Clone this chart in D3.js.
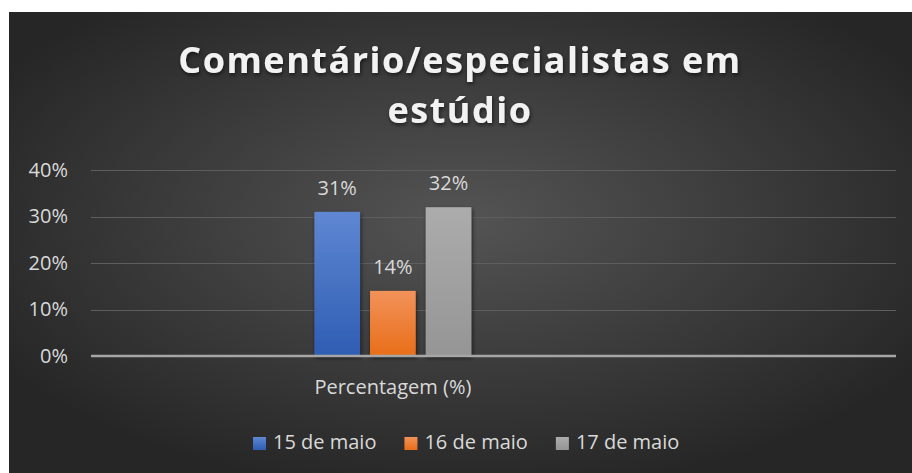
<!DOCTYPE html>
<html>
<head>
<meta charset="utf-8">
<script src="https://cdn.jsdelivr.net/npm/d3@7"></script>
<style>
  body { margin: 0; background: #fff; }
  svg { display: block; font-family: "Open Sans", sans-serif; }
</style>
</head>
<body>
<div class="canvas"></div>
<script>
// chart data
const categories = ["", "Percentagem (%)", "", ""];
const seriesNames = ["15 de maio", "16 de maio", "17 de maio"];
const seriesValues = [0.31, 0.14, 0.32];
const yTicks = [0, 0.1, 0.2, 0.3, 0.4];
const titleLines = ["Comentário/especialistas em", "estúdio"];

const dims = { width: 912, height: 473 };
const plot = { left: 91, right: 896, top: 170, bottom: 356 };

const svg = d3
  .select(".canvas")
  .append("svg")
  .attr("width", dims.width)
  .attr("height", dims.height);

const defs = svg.append("defs");

// background radial gradient
const bg = defs
  .append("radialGradient")
  .attr("id", "bg")
  .attr("cx", "50%")
  .attr("cy", "45%")
  .attr("r", "60%");
bg.append("stop").attr("offset", "0%").attr("stop-color", "#545454");
bg.append("stop").attr("offset", "100%").attr("stop-color", "#262626");

const barColors = [
  ["#5f87d2", "#2e5db3"],
  ["#f2925a", "#e86e18"],
  ["#acacac", "#959595"],
];
barColors.forEach((c, i) => {
  const g = defs
    .append("linearGradient")
    .attr("id", "bar" + i)
    .attr("x1", 0).attr("y1", 0).attr("x2", 0).attr("y2", 1);
  g.append("stop").attr("offset", "0%").attr("stop-color", c[0]);
  g.append("stop").attr("offset", "100%").attr("stop-color", c[1]);
});

const shadow = defs.append("filter").attr("id", "shadow")
  .attr("x", "-10%").attr("y", "-10%").attr("width", "130%").attr("height", "140%");
shadow.append("feDropShadow")
  .attr("dx", 1).attr("dy", 2).attr("stdDeviation", 2)
  .attr("flood-color", "#000").attr("flood-opacity", 0.6);

svg.append("rect")
  .attr("x", 9).attr("y", 12)
  .attr("width", dims.width - 9).attr("height", dims.height - 12)
  .attr("fill", "url(#bg)");

// title
svg.append("g")
  .selectAll("text")
  .data(titleLines)
  .enter()
  .append("text")
  .attr("x", 460)
  .attr("y", (d, i) => 73 + i * 50)
  .attr("text-anchor", "middle")
  .attr("fill", "#f2f2f2")
  .attr("font-size", 36)
  .attr("font-weight", "bold")
  .attr("letter-spacing", 1.5)
  .attr("filter", "url(#shadow)")
  .text((d) => d);

// scales
const x0 = d3.scaleBand().domain(d3.range(categories.length)).range([plot.left, plot.right]);
const x1 = d3
  .scaleBand()
  .domain(seriesNames)
  .range([x0.bandwidth() * 0.11, x0.bandwidth() * 0.89])
  .paddingInner(0.18);
const y = d3.scaleLinear().domain([0, 0.4]).range([plot.bottom, plot.top]);

// gridlines
svg.append("g")
  .selectAll("line")
  .data(yTicks.slice(1))
  .enter()
  .append("line")
  .attr("x1", plot.left).attr("x2", plot.right)
  .attr("y1", (d) => Math.round(y(d)) + 0.5)
  .attr("y2", (d) => Math.round(y(d)) + 0.5)
  .attr("stroke", "#5e5e5e")
  .attr("stroke-width", 1);

// y axis labels
const yAxis = d3.axisLeft(y).tickValues(yTicks).tickFormat(d3.format(".0%")).tickSize(0).tickPadding(23);
const yG = svg.append("g").attr("transform", `translate(${plot.left},0)`).call(yAxis);
yG.select(".domain").remove();
yG.selectAll("text")
  .attr("fill", "#d9d9d9")
  .attr("font-size", 20)
  .attr("font-family", "Open Sans");

// bars
const barG = svg.append("g").attr("transform", `translate(${x0(1)},0)`);
barG.selectAll("rect")
  .data(seriesValues)
  .enter()
  .append("rect")
  .attr("x", (d, i) => x1(seriesNames[i]))
  .attr("y", (d) => y(d))
  .attr("width", x1.bandwidth())
  .attr("height", (d) => y(0) - y(d))
  .attr("fill", (d, i) => `url(#bar${i})`)
  .attr("filter", "url(#shadow)");

barG.selectAll("text")
  .data(seriesValues)
  .enter()
  .append("text")
  .attr("x", (d, i) => x1(seriesNames[i]) + x1.bandwidth() / 2)
  .attr("y", (d) => y(d) - 17)
  .attr("text-anchor", "middle")
  .attr("fill", "#d9d9d9")
  .attr("font-size", 20)
  .text((d) => d3.format(".0%")(d));

// category axis
svg.append("line")
  .attr("x1", plot.left).attr("x2", plot.right)
  .attr("y1", plot.bottom).attr("y2", plot.bottom)
  .attr("stroke", "#a6a6a6")
  .attr("stroke-width", 2.5);

svg.append("g")
  .selectAll("text")
  .data(categories)
  .enter()
  .append("text")
  .attr("x", (d, i) => x0(i) + x0.bandwidth() / 2)
  .attr("y", 394)
  .attr("text-anchor", "middle")
  .attr("fill", "#d9d9d9")
  .attr("font-size", 20)
  .text((d) => d);

// legend
const legend = svg.append("g").attr("transform", "translate(253,437)");
let lx = 0;
seriesNames.forEach((name, i) => {
  const item = legend.append("g").attr("transform", `translate(${lx},0)`);
  item.append("rect")
    .attr("width", 13).attr("height", 13)
    .attr("fill", `url(#bar${i})`);
  const t = item.append("text")
    .attr("x", 20).attr("y", 12)
    .attr("fill", "#d9d9d9")
    .attr("font-size", 20)
    .text(name);
  lx += 20 + t.node().getComputedTextLength() + 28;
});
</script>
</body>
</html>
